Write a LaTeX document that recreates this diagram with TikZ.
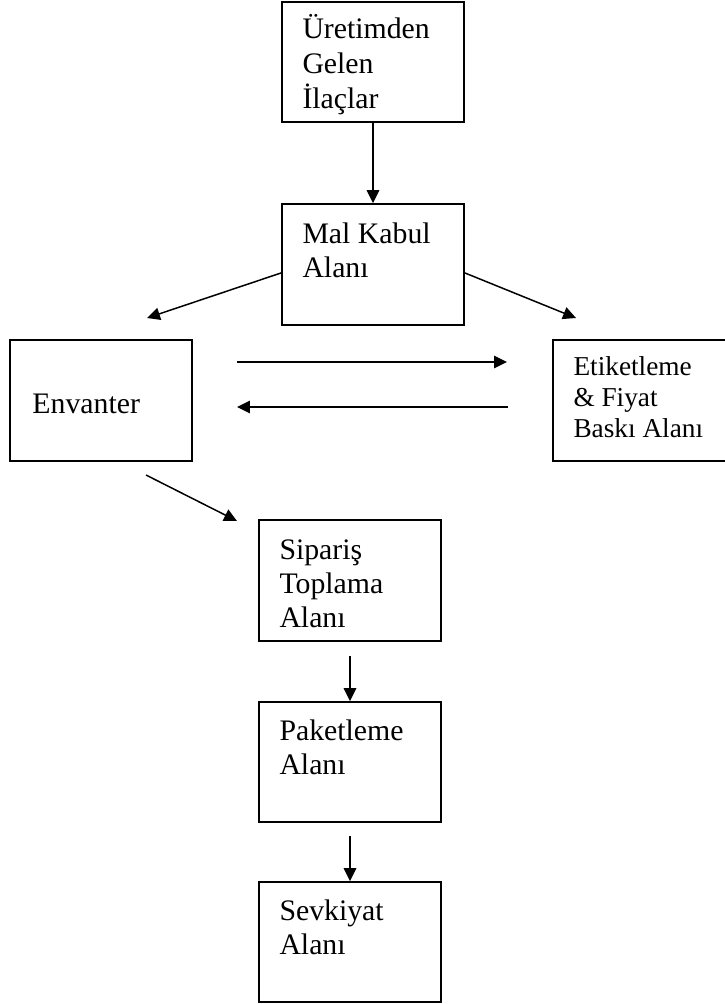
\documentclass[tikz,border=0pt]{standalone}
\usepackage{fontspec}
\setmainfont{Liberation Serif}
\usetikzlibrary{arrows.meta,fit,calc}

\begin{document}
\begin{tikzpicture}[x=0.403pt,y=-0.403pt,
  box/.style={draw,line width=0.7pt,inner sep=0pt,rectangle},
  txt/.style={anchor=base west,inner sep=0pt,font=\fontsize{12}{13.9}\selectfont},
  smalltxt/.style={anchor=base west,inner sep=0pt,font=\fontsize{11}{12.5}\selectfont},
  flow/.style={line width=0.6pt,-{Triangle[length=5.2pt,width=5pt]}}]

  \useasboundingbox (0,0) rectangle (725,1004);
  \clip (0,0) rectangle (725,1004);

  % boxes
  \node[box,fit={(282,2) (464,122)}]   (uretim)  {};
  \node[box,fit={(282,204) (464,325)}] (malkabul) {};
  \node[box,fit={(10,340) (192,461)}]  (envanter) {};
  \node[box,fit={(553,340) (735,461)}] (etiket) {};
  \node[box,fit={(259,520) (441,641)}] (siparis) {};
  \node[box,fit={(259,702) (441,822)}] (paket) {};
  \node[box,fit={(259,882) (441,1002)}] (sevk) {};

  % labels
  \node[txt] (uretim-t) at (302,39)
    {\begin{tabular}[t]{@{}l@{}}Üretimden\\Gelen\\İlaçlar\end{tabular}};
  \node[txt] (malkabul-t) at (302,243)
    {\begin{tabular}[t]{@{}l@{}}Mal Kabul\\Alanı\end{tabular}};
  \node[txt] (envanter-t) at (32,413) {Envanter};
  \node[smalltxt] (etiket-t) at (573,375)
    {\begin{tabular}[t]{@{}l@{}}Etiketleme\\\& Fiyat\\Baskı Alanı\end{tabular}};
  \node[txt] (siparis-t) at (279,559)
    {\begin{tabular}[t]{@{}l@{}}Sipariş\\Toplama\\Alanı\end{tabular}};
  \node[txt] (paket-t) at (279,740)
    {\begin{tabular}[t]{@{}l@{}}Paketleme\\Alanı\end{tabular}};
  \node[txt] (sevk-t) at (279,920)
    {\begin{tabular}[t]{@{}l@{}}Sevkiyat\\Alanı\end{tabular}};

  % free arrow ends
  \coordinate (toEnv)  at (147,318);
  \coordinate (toEtk)  at (576,318);
  \coordinate (rA)     at (237,362);
  \coordinate (rB)     at (507,362);
  \coordinate (lA)     at (508,407);
  \coordinate (lB)     at (237,407);
  \coordinate (fromEnv) at (146,475);
  \coordinate (toSip)  at (237,521);
  \coordinate (fromSip) at (350,656);
  \coordinate (fromPak) at (350,836);

  % connectors
  \draw[flow] (uretim.south) -- (malkabul.north);
  \draw[flow] ([yshift=-3.4pt]malkabul.west) -- (toEnv);
  \draw[flow] ([yshift=-3.4pt]malkabul.east) -- (toEtk);
  \draw[flow] (rA) -- (rB);
  \draw[flow] (lA) -- (lB);
  \draw[flow] (fromEnv) -- (toSip);
  \draw[flow] (fromSip) -- (paket.north);
  \draw[flow] (fromPak) -- (sevk.north);
\end{tikzpicture}
\end{document}
